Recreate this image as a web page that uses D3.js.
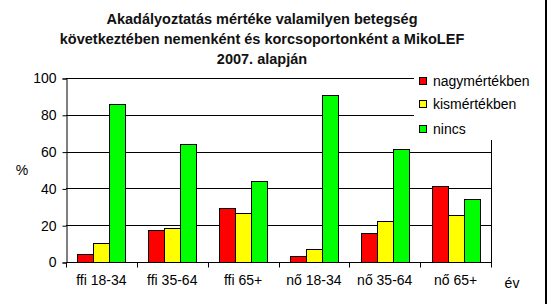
<!DOCTYPE html>
<html>
<head>
<meta charset="utf-8">
<script src="https://cdn.jsdelivr.net/npm/d3@7"></script>
<style>
  body { margin: 0; background: #fff; }
  text { font-family: 'Liberation Sans', Arial, sans-serif; }
</style>
</head>
<body>
<div id="chart"></div>
<script>
// Data
var categories = ['ffi 18-34', 'ffi 35-64', 'ffi 65+', 'nő 18-34', 'nő 35-64', 'nő 65+'];
var series = ['nagymértékben', 'kismértékben', 'nincs'];
var nagy = [4.5, 17.5, 29.5, 3.4, 16, 41.5];
var kis = [10.5, 18.5, 26.6, 7.2, 22.3, 25.7];
var nincs = [86, 64, 44, 91, 61.4, 34.4];
var yTicks = [0, 20, 40, 60, 80, 100];
var titleLines = ['Akadályoztatás mértéke valamilyen betegség',
                  'következtében nemenként és korcsoportonként a MikoLEF',
                  '2007. alapján'];

(function() {
  var W = 547, H = 304;
  var COLORS = ['#FF0000', '#FFFF00', '#00FF00'];
  var values = [nagy, kis, nincs];

  var svg = d3.select('#chart').append('svg')
    .attr('width', W).attr('height', H);

  svg.append('rect').attr('width', W).attr('height', H).attr('fill', '#fff');
  // dark strip on the right edge
  svg.append('rect').attr('x', 545).attr('y', 0).attr('width', 2).attr('height', H).attr('fill', '#000');

  // Title
  svg.append('text')
    .attr('text-anchor', 'middle')
    .attr('font-size', '14.5px')
    .attr('font-weight', 'bold')
    .attr('fill', '#111')
    .selectAll('tspan').data(titleLines).enter().append('tspan')
    .attr('x', 262)
    .attr('y', function(d, i) { return 24 + i * 20; })
    .text(function(d) { return d; });

  var pLeft = 66, pRight = 491, pTop = 78, pBottom = 262;

  var x0 = d3.scaleBand().domain(categories).range([pLeft, pRight]).paddingInner(0).paddingOuter(0);
  var x1 = d3.scaleBand().domain(series).range([0, x0.bandwidth()]).paddingInner(0).paddingOuter(0.72);
  var y = d3.scaleLinear().domain([0, 100]).range([pBottom, pTop]);

  // Gridlines
  svg.append('g').selectAll('line').data(yTicks.slice(1)).enter().append('line')
    .attr('x1', pLeft).attr('x2', pRight)
    .attr('y1', function(d) { return Math.round(y(d)) + 0.5; })
    .attr('y2', function(d) { return Math.round(y(d)) + 0.5; })
    .attr('stroke', '#000').attr('stroke-width', 1);

  // right border of plot area
  svg.append('line')
    .attr('x1', pRight + 0.5).attr('x2', pRight + 0.5)
    .attr('y1', pTop).attr('y2', pBottom)
    .attr('stroke', '#000');

  // Bars
  series.forEach(function(s, si) {
    svg.append('g').selectAll('rect').data(values[si]).enter().append('rect')
      .attr('x', function(d, i) { return Math.round(x0(categories[i]) + x1(s)) + 0.5; })
      .attr('width', Math.round(x1.bandwidth()))
      .attr('y', function(d) { return Math.round(y(d)) + 0.5; })
      .attr('height', function(d) { return pBottom - Math.round(y(d)); })
      .attr('fill', COLORS[si])
      .attr('stroke', '#000')
      .attr('stroke-width', 1);
  });

  // Y axis
  var yAxis = svg.append('g')
    .attr('transform', 'translate(' + (pLeft + 0.5) + ',0.5)')
    .call(d3.axisLeft(y).tickValues(yTicks).tickSize(4).tickPadding(6));
  yAxis.selectAll('text').attr('font-size', '14px').attr('fill', '#000')
    .style('font-family', "'Liberation Sans', Arial, sans-serif");
  yAxis.selectAll('line, path').attr('stroke', '#000');

  // X axis: ticks at category boundaries
  var xa = svg.append('g').attr('transform', 'translate(0,' + (pBottom + 0.5) + ')');
  xa.append('line').attr('x1', pLeft).attr('x2', pRight + 1).attr('stroke', '#000');
  var bounds = categories.map(function(c) { return x0(c); }).concat([pRight]);
  xa.selectAll('line.tick').data(bounds).enter().append('line')
    .attr('class', 'tick')
    .attr('x1', function(d) { return Math.round(d) + 0.5; })
    .attr('x2', function(d) { return Math.round(d) + 0.5; })
    .attr('y1', 0).attr('y2', 5)
    .attr('stroke', '#000');
  xa.selectAll('text').data(categories).enter().append('text')
    .attr('x', function(d) { return x0(d) + x0.bandwidth() / 2; })
    .attr('y', 22)
    .attr('text-anchor', 'middle')
    .attr('font-size', '14px')
    .attr('fill', '#000')
    .text(function(d) { return d; });

  // Axis titles
  svg.append('text').attr('x', 22).attr('y', 175).attr('text-anchor', 'middle')
    .attr('font-size', '14px').text('%');
  svg.append('text').attr('x', 512).attr('y', 288).attr('text-anchor', 'middle')
    .attr('font-size', '14px').text('év');

  // Legend (white box over the top right of plot)
  var legend = svg.append('g');
  legend.append('rect').attr('x', 414).attr('y', 68).attr('width', 128).attr('height', 72).attr('fill', '#fff');
  var items = legend.selectAll('g.item').data(series).enter().append('g')
    .attr('class', 'item')
    .attr('transform', function(d, i) { return 'translate(419,' + [77, 100, 125][i] + ')'; });
  items.append('rect')
    .attr('x', 0.5).attr('y', 0.5).attr('width', 7).attr('height', 7)
    .attr('fill', function(d, i) { return COLORS[i]; })
    .attr('stroke', '#000');
  items.append('text')
    .attr('x', 14).attr('y', 9)
    .attr('font-size', '14px')
    .attr('fill', '#000')
    .text(function(d) { return d; });
})();
</script>
</body>
</html>
